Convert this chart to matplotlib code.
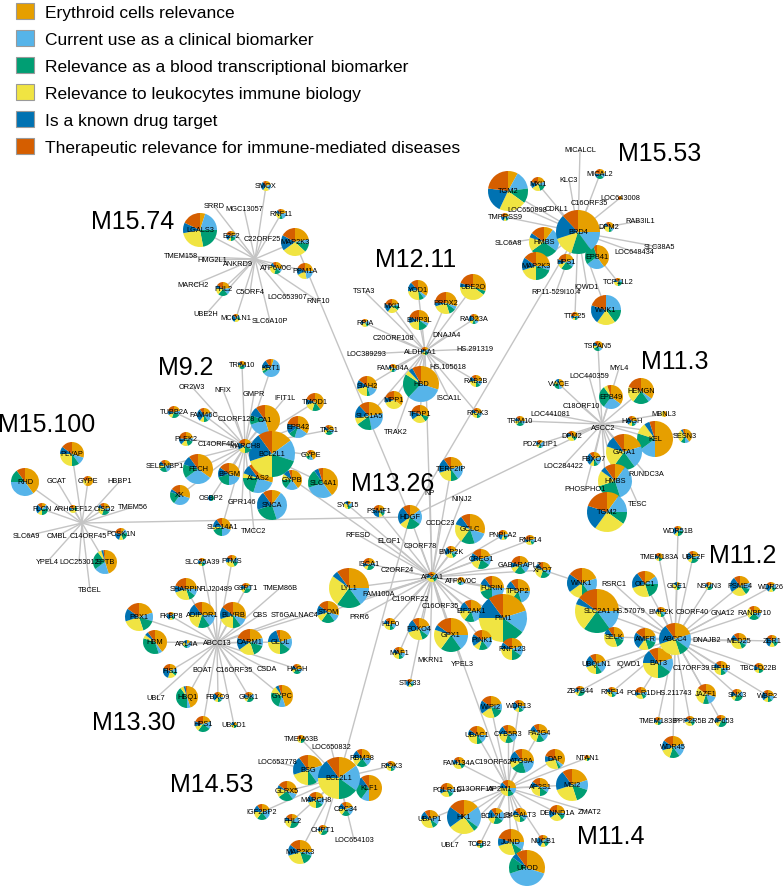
import matplotlib
matplotlib.use("Agg")
import matplotlib.pyplot as plt
from matplotlib.patches import Patch

plt.rcParams['font.family'] = ['Liberation Sans', 'DejaVu Sans']

categories = ['Erythroid cells relevance',
              'Current use as a clinical biomarker',
              'Relevance as a blood transcriptional biomarker',
              'Relevance to leukocytes immune biology',
              'Is a known drug target',
              'Therapeutic relevance for immune-mediated diseases']
palette = ['#E69F00', '#56B4E9', '#009E73', '#F0E442', '#0072B2', '#D55E00']

# node = (gene, x, y, pie size, scores per category); layout in pixels of the original figure
m15_74_hub = ("ANKRD9", 255, 260, 0, None)
m15_74 = [
    ("SMOX", 266, 187, 5, [2, 2, 0, 2, 3, 1]),
    ("SRRD", 214, 207, 0, None),
    ("MGC13057", 244, 210, 0, None),
    ("RNF11", 281, 215, 5, [2, 2, 1, 2, 1, 1]),
    ("LGALS3", 200, 231, 17, [5, 20, 22, 25, 10, 18]),
    ("E2F2", 231, 237, 5, [2, 1, 2, 1, 2, 2]),
    ("C22ORF25", 262, 240, 0, None),
    ("MAP2K3", 295, 243, 14, [22, 5, 10, 28, 18, 17]),
    ("TMEM158", 181, 257, 0, None),
    ("HMG2L1", 212, 261, 0, None),
    ("ATP6V0C", 276, 269, 6, [3, 1, 2, 3, 1, 1]),
    ("PPM1A", 305, 272, 8, [25, 22, 0, 20, 15, 18]),
    ("MARCH2", 193, 286, 0, None),
    ("FHL2", 223, 290, 7, [3, 2, 3, 2, 1, 2]),
    ("C5ORF4", 250, 293, 0, None),
    ("LOC653907", 287, 298, 0, None),
    ("RNF10", 318, 302, 0, None),
    ("UBE2H", 206, 315, 0, None),
    ("MCOLN1", 236, 319, 4, [1, 1, 1, 2, 3, 1]),
    ("SLC6A10P", 270, 322, 0, None),
]

m15_53_hub = ("BRD4", 578, 233, 22, [25, 15, 15, 15, 18, 12])
m15_53 = [
    ("MICALCL", 580, 151, 0, None),
    ("KLC3", 569, 180, 0, None),
    ("MICAL2", 600, 175, 5, [3, 2, 3, 0, 2, 3]),
    ("LOC643008", 620, 199, 2, [1, 0, 0, 0, 0, 1]),
    ("C16ORF35", 589, 204, 0, None),
    ("CDKL1", 557, 210, 0, None),
    ("MXI1", 538, 185, 7, [20, 10, 15, 20, 15, 20]),
    ("TGM2", 508, 192, 20, [8, 15, 12, 22, 20, 23]),
    ("LOC650898", 527, 211, 0, None),
    ("TMPRSS9", 505, 218, 4, [2, 1, 1, 1, 2, 2]),
    ("SLC6A8", 508, 244, 0, None),
    ("HMBS", 544, 243, 15, [10, 25, 30, 15, 5, 15]),
    ("DPM2", 609, 228, 5, [3, 1, 1, 3, 1, 1]),
    ("RAB3IL1", 640, 222, 0, None),
    ("SLC38A5", 659, 248, 0, None),
    ("LOC648434", 634, 253, 0, None),
    ("EPB41", 597, 258, 12, [40, 25, 30, 0, 0, 5]),
    ("MAP2K3", 536, 267, 14, [25, 5, 20, 20, 15, 15]),
    ("HPS1", 566, 263, 8, [20, 15, 25, 10, 10, 20]),
    ("TCP11L2", 618, 283, 4, [1, 1, 2, 2, 1, 1]),
    ("IQWD1", 587, 288, 0, None),
    ("RP11-529I10.4", 556, 293, 0, None),
    ("TTC25", 575, 317, 4, [2, 1, 1, 1, 1, 2]),
    ("WNK1", 606, 311, 15, [0, 25, 15, 20, 20, 20]),
]

m12_11_hub = ("ALDH5A1", 425, 352, 4, [1, 1, 1, 1, 1, 1])
m12_11 = [
    ("TSTA3", 364, 292, 0, None),
    ("YOD1", 418, 291, 10, [35, 5, 8, 25, 15, 12]),
    ("UBE2O", 473, 288, 13, [30, 0, 5, 40, 5, 20]),
    ("MXI1", 392, 307, 7, [20, 5, 10, 25, 20, 20]),
    ("PRDX2", 446, 304, 11, [30, 5, 10, 25, 5, 25]),
    ("BNIP3L", 419, 321, 10, [30, 5, 15, 20, 10, 20]),
    ("RAD23A", 474, 320, 5, [3, 1, 1, 1, 2, 1]),
    ("RPIA", 365, 324, 4, [1, 1, 1, 2, 1, 1]),
    ("C20ORF108", 393, 339, 0, None),
    ("DNAJA4", 447, 336, 0, None),
    ("LOC389293", 366, 355, 0, None),
    ("HS.291319", 475, 350, 0, None),
    ("FAM104A", 393, 369, 4, [2, 1, 1, 1, 1, 1]),
    ("HS.105618", 448, 368, 0, None),
    ("HBD", 421, 385, 18, [30, 32, 22, 4, 4, 8]),
    ("SIAH2", 367, 387, 10, [30, 15, 5, 20, 15, 15]),
    ("RAB2B", 476, 382, 6, [2, 1, 1, 2, 1, 1]),
    ("MPP1", 394, 401, 9, [35, 0, 0, 35, 10, 20]),
    ("ISCA1L", 449, 399, 0, None),
    ("SLC1A5", 369, 417, 14, [22, 25, 18, 8, 15, 12]),
    ("TFDP1", 420, 415, 9, [30, 0, 10, 25, 15, 20]),
    ("RIOK3", 477, 414, 5, [2, 1, 1, 2, 1, 1]),
    ("TRAK2", 396, 433, 0, None),
]

m9_2_hub = ("MARCH8", 245, 447, 7, [2, 2, 2, 2, 2, 2])
m9_2 = [
    ("TRIM10", 242, 366, 4, [2, 1, 2, 1, 1, 1]),
    ("OR2W3", 192, 388, 0, None),
    ("NFIX", 223, 391, 0, None),
    ("GMPR", 254, 395, 0, None),
    ("TUBB2A", 174, 413, 6, [2, 1, 2, 1, 1, 2]),
    ("FAM46C", 204, 416, 7, [2, 2, 1, 1, 3, 1]),
    ("C1ORF128", 236, 420, 0, None),
    ("KRT1", 271, 369, 9, [5, 60, 5, 5, 15, 10]),
    ("IFIT1L", 285, 399, 0, None),
    ("TMOD1", 315, 403, 9, [40, 0, 15, 15, 10, 20]),
    ("CA1", 265, 421, 15, [45, 25, 10, 0, 10, 10]),
    ("EPB42", 298, 428, 11, [35, 20, 10, 0, 15, 20]),
    ("TNS1", 329, 431, 5, [2, 1, 2, 1, 1, 1]),
    ("PLEK2", 186, 440, 7, [3, 1, 2, 2, 2, 3]),
    ("C14ORF45", 216, 445, 0, None),
    ("ALAS2", 258, 479, 15, [30, 25, 20, 5, 10, 10]),
    ("BCL2L1", 272, 455, 23, [15, 15, 20, 20, 20, 10]),
    ("GYPE", 311, 456, 5, [3, 1, 1, 1, 0, 1]),
    ("SELENBP1", 165, 467, 6, [2, 2, 2, 1, 1, 1]),
    ("FECH", 198, 470, 15, [35, 30, 15, 0, 10, 10]),
    ("BPGM", 229, 475, 11, [30, 20, 20, 0, 15, 15]),
    ("GYPB", 292, 481, 10, [40, 20, 15, 10, 10, 5]),
    ("SLC4A1", 323, 484, 15, [40, 30, 20, 0, 5, 5]),
    ("XK", 180, 496, 10, [30, 30, 20, 0, 5, 15]),
    ("OSBP2", 211, 499, 3, [0, 0, 1, 0, 1, 0]),
    ("GPR146", 242, 503, 0, None),
    ("SNCA", 272, 506, 15, [10, 35, 25, 0, 20, 10]),
    ("SLC14A1", 222, 528, 9, [30, 20, 20, 5, 15, 10]),
    ("TMCC2", 254, 532, 0, None),
]

m15_100_hub = ("C14ORF45", 82, 524, 0, None)
m15_100 = [
    ("PLVAP", 72, 455, 12, [30, 10, 10, 25, 10, 15]),
    ("RHD", 25, 483, 14, [40, 35, 15, 0, 0, 10]),
    ("GCAT", 57, 482, 0, None),
    ("GYPE", 88, 482, 5, [3, 0, 0, 1, 0, 1]),
    ("HBBP1", 120, 482, 0, None),
    ("FLCN", 42, 510, 6, [1, 1, 2, 1, 2, 1]),
    ("ARHGEF12", 73, 510, 4, [1, 0, 1, 2, 1, 1]),
    ("CISD2", 104, 510, 6, [2, 1, 2, 2, 1, 1]),
    ("TMEM56", 133, 508, 0, None),
    ("SLC6A9", 26, 537, 0, None),
    ("CMBL", 57, 537, 0, None),
    ("PCSK1N", 121, 535, 6, [1, 1, 2, 1, 2, 2]),
    ("YPEL4", 47, 563, 0, None),
    ("LOC253012", 79, 563, 0, None),
    ("SPTB", 105, 563, 12, [45, 20, 25, 5, 3, 2]),
    ("TBCEL", 90, 591, 0, None),
]

m11_3_hub = ("ASCC2", 602, 425, 0, None)
m11_3 = [
    ("TSPAN5", 598, 347, 5, [3, 1, 2, 1, 1, 1]),
    ("MYL4", 619, 369, 0, None),
    ("LOC440359", 589, 377, 0, None),
    ("VWCE", 559, 385, 5, [3, 1, 2, 1, 1, 0]),
    ("EPB49", 611, 398, 12, [35, 25, 30, 5, 0, 5]),
    ("HEMGN", 641, 392, 13, [35, 5, 20, 20, 0, 20]),
    ("C18ORF10", 581, 407, 0, None),
    ("LOC441081", 550, 415, 0, None),
    ("MBNL3", 664, 415, 3, [1, 0, 0, 1, 0, 0]),
    ("HAGH", 632, 422, 5, [2, 1, 1, 1, 2, 1]),
    ("TRIM10", 520, 422, 5, [2, 1, 2, 1, 1, 1]),
    ("DPM2", 572, 437, 5, [2, 0, 1, 2, 1, 1]),
    ("SESN3", 685, 437, 7, [40, 10, 10, 30, 5, 5]),
    ("KEL", 655, 440, 18, [50, 15, 15, 10, 5, 5]),
    ("PDZK1IP1", 540, 445, 4, [1, 2, 1, 1, 1, 1]),
    ("GATA1", 624, 453, 18, [20, 20, 20, 20, 10, 10]),
    ("FBXO7", 594, 460, 7, [20, 20, 10, 10, 30, 10]),
    ("LOC284422", 563, 467, 0, None),
    ("RUNDC3A", 646, 475, 0, None),
    ("HMBS", 615, 482, 17, [10, 35, 25, 15, 5, 10]),
    ("PHOSPHO1", 585, 490, 0, None),
    ("TESC", 638, 505, 0, None),
    ("TGM2", 607, 513, 20, [10, 15, 10, 25, 20, 20]),
]

m13_26_hub = ("AP2A1", 432, 578, 5, [1, 1, 1, 2, 1, 1])
m13_26 = [
    ("TERF2IP", 451, 470, 12, [20, 20, 10, 20, 20, 10]),
    ("NP", 430, 494, 0, None),
    ("NINJ2", 462, 500, 0, None),
    ("SYT15", 348, 506, 4, [1, 1, 1, 2, 1, 0]),
    ("PSMF1", 379, 512, 6, [2, 1, 1, 1, 3, 2]),
    ("HDGF", 410, 518, 12, [15, 20, 20, 10, 25, 10]),
    ("CCDC23", 440, 524, 0, None),
    ("GCLC", 470, 530, 15, [30, 15, 15, 20, 10, 10]),
    ("PNPLA2", 503, 536, 5, [2, 1, 1, 1, 2, 2]),
    ("RFESD", 358, 536, 0, None),
    ("ELOF1", 389, 542, 0, None),
    ("C9ORF78", 420, 547, 0, None),
    ("BMP2K", 451, 553, 6, [2, 1, 1, 2, 2, 1]),
    ("CREG1", 481, 560, 10, [20, 15, 20, 15, 15, 15]),
    ("RNF14", 530, 541, 5, [2, 1, 1, 2, 1, 2]),
    ("ISCA1", 369, 565, 6, [2, 1, 2, 1, 1, 2]),
    ("GABARAPL2", 520, 566, 9, [20, 20, 20, 10, 10, 20]),
    ("C2ORF24", 397, 571, 0, None),
    ("ATP6V0C", 461, 582, 4, [2, 1, 1, 1, 0, 1]),
    ("LYL1", 349, 589, 20, [25, 15, 20, 25, 5, 10]),
    ("FAM100A", 379, 595, 0, None),
    ("FURIN", 492, 589, 12, [25, 25, 20, 10, 10, 10]),
    ("TFDP2", 518, 592, 12, [25, 20, 15, 20, 10, 10]),
    ("XPO7", 543, 571, 8, [25, 10, 20, 25, 10, 10]),
    ("C19ORF22", 410, 600, 0, None),
    ("C16ORF35", 440, 607, 0, None),
    ("EIF2AK1", 471, 612, 11, [25, 20, 15, 15, 15, 10]),
    ("PIM1", 503, 619, 24, [20, 15, 15, 25, 15, 10]),
    ("STOM", 328, 613, 11, [30, 10, 20, 10, 15, 15]),
    ("PRR6", 359, 618, 0, None),
    ("H1F0", 390, 625, 6, [2, 1, 1, 2, 1, 1]),
    ("FOXO4", 419, 630, 11, [20, 15, 10, 25, 20, 10]),
    ("GPX1", 451, 636, 17, [25, 15, 20, 20, 5, 15]),
    ("PINK1", 482, 641, 10, [20, 20, 15, 10, 20, 15]),
    ("RNF123", 512, 650, 11, [20, 15, 15, 25, 10, 15]),
    ("MAF1", 399, 654, 6, [2, 1, 1, 2, 1, 1]),
    ("MKRN1", 430, 661, 0, None),
    ("YPEL3", 462, 665, 0, None),
    ("STK33", 410, 684, 4, [1, 1, 1, 1, 2, 1]),
]

m13_30_hub = ("ABCC13", 217, 644, 0, None)
m13_30 = [
    ("SLC25A39", 202, 563, 4, [1, 1, 1, 1, 1, 1]),
    ("PTMS", 232, 562, 6, [1, 1, 1, 2, 1, 1]),
    ("SHARPIN", 186, 590, 11, [25, 10, 10, 25, 10, 20]),
    ("FLJ20489", 216, 590, 0, None),
    ("GSPT1", 246, 589, 5, [1, 1, 2, 1, 1, 1]),
    ("TMEM86B", 280, 589, 0, None),
    ("PBX1", 139, 618, 14, [20, 10, 15, 25, 15, 15]),
    ("FKBP8", 171, 617, 4, [1, 1, 1, 1, 2, 1]),
    ("ADIPOR1", 202, 616, 13, [25, 15, 15, 20, 15, 10]),
    ("BLVRB", 233, 616, 13, [30, 10, 10, 20, 15, 15]),
    ("CBS", 260, 616, 0, None),
    ("ST6GALNAC4", 295, 616, 0, None),
    ("HBM", 155, 643, 12, [40, 5, 35, 5, 5, 10]),
    ("ARL4A", 187, 645, 4, [1, 2, 1, 1, 1, 0]),
    ("CARM1", 250, 643, 13, [20, 10, 15, 20, 15, 20]),
    ("GLUL", 280, 643, 12, [20, 15, 15, 25, 20, 5]),
    ("FIS1", 170, 672, 7, [2, 1, 1, 2, 3, 2]),
    ("BOAT", 202, 671, 0, None),
    ("C16ORF35", 234, 671, 0, None),
    ("CSDA", 267, 670, 0, None),
    ("HAGH", 297, 670, 5, [2, 1, 2, 1, 1, 1]),
    ("UBL7", 156, 699, 0, None),
    ("HBQ1", 187, 698, 11, [45, 5, 40, 5, 3, 2]),
    ("FBXO9", 218, 698, 5, [2, 1, 1, 1, 2, 1]),
    ("GUK1", 249, 698, 5, [1, 1, 2, 1, 1, 1]),
    ("GYPC", 282, 697, 11, [45, 10, 25, 10, 5, 5]),
    ("HPS1", 203, 725, 8, [20, 15, 25, 10, 10, 20]),
    ("UBXD1", 234, 726, 3, [1, 0, 1, 1, 1, 0]),
]

m11_2_hub = ("ABCC4", 675, 640, 16, [20, 15, 10, 25, 20, 10])
m11_2 = [
    ("WDR51B", 678, 532, 5, [1, 1, 2, 1, 2, 1]),
    ("TMEM183A", 659, 558, 4, [2, 0, 1, 1, 1, 1]),
    ("UBE2F", 693, 558, 6, [2, 1, 2, 1, 2, 1]),
    ("WNK1", 582, 584, 15, [20, 20, 10, 15, 20, 15]),
    ("RSRC1", 614, 585, 0, None),
    ("ODC1", 645, 585, 13, [15, 10, 20, 25, 20, 10]),
    ("GDE1", 677, 587, 4, [1, 1, 1, 2, 1, 0]),
    ("NSUN3", 709, 587, 4, [1, 1, 2, 1, 1, 1]),
    ("PSME4", 740, 587, 10, [20, 10, 10, 25, 25, 10]),
    ("WDR26", 771, 588, 5, [1, 1, 1, 1, 2, 1]),
    ("SLC2A1", 597, 612, 22, [25, 15, 20, 20, 5, 15]),
    ("HS.57079", 629, 612, 0, None),
    ("BMP2K", 661, 613, 5, [2, 1, 1, 2, 1, 1]),
    ("C9ORF40", 692, 613, 0, None),
    ("GNA12", 723, 614, 0, None),
    ("RANBP10", 754, 614, 7, [2, 1, 2, 2, 0, 1]),
    ("SELK", 614, 638, 10, [25, 5, 15, 35, 10, 10]),
    ("AMFR", 645, 640, 11, [20, 10, 15, 15, 25, 15]),
    ("DNAJB2", 707, 641, 0, None),
    ("MED25", 739, 642, 8, [2, 1, 1, 3, 1, 1]),
    ("ZER1", 772, 642, 6, [1, 1, 1, 1, 2, 1]),
    ("UBQLN1", 596, 665, 10, [20, 20, 10, 20, 20, 10]),
    ("IQWD1", 629, 665, 0, None),
    ("BAT3", 658, 664, 15, [20, 15, 15, 25, 15, 10]),
    ("C17ORF39", 691, 669, 0, None),
    ("EIF1B", 721, 669, 7, [2, 1, 1, 2, 1, 1]),
    ("TBC1D22B", 759, 669, 5, [2, 0, 1, 1, 1, 1]),
    ("ZBTB44", 580, 692, 5, [1, 1, 2, 1, 1, 1]),
    ("RNF14", 612, 693, 5, [2, 1, 1, 2, 1, 1]),
    ("POLR1D", 641, 694, 6, [2, 1, 1, 2, 1, 2]),
    ("HS.211743", 674, 694, 0, None),
    ("JAZF1", 706, 695, 10, [30, 15, 10, 30, 0, 15]),
    ("SNX3", 737, 696, 6, [1, 1, 2, 1, 1, 1]),
    ("WBP2", 768, 697, 6, [2, 1, 1, 1, 2, 1]),
    ("TMEM183B", 658, 722, 4, [1, 1, 1, 1, 1, 1]),
    ("PPP2R5B", 690, 722, 5, [1, 1, 1, 2, 1, 1]),
    ("ZNF653", 721, 722, 6, [1, 1, 2, 1, 1, 1]),
    ("WDR45", 673, 748, 11, [20, 20, 15, 15, 15, 15]),
]

m11_4_hub = ("AP2M1", 508, 789, 8, [2, 1, 1, 2, 1, 1])
m11_4 = [
    ("WIPI2", 491, 708, 11, [20, 10, 15, 20, 20, 15]),
    ("WDR13", 519, 707, 6, [2, 1, 1, 1, 2, 1]),
    ("UBAC1", 477, 736, 9, [25, 15, 10, 25, 10, 15]),
    ("CYB5R3", 508, 735, 9, [25, 15, 15, 20, 15, 10]),
    ("PA2G4", 539, 734, 9, [25, 15, 15, 25, 10, 10]),
    ("FAM134A", 459, 764, 6, [2, 0, 1, 2, 1, 1]),
    ("C19ORF62", 493, 763, 0, None),
    ("ATG9A", 522, 762, 12, [25, 20, 20, 10, 15, 10]),
    ("DAP", 555, 760, 10, [35, 5, 5, 25, 10, 20]),
    ("NTAN1", 587, 759, 3, [1, 0, 1, 1, 0, 1]),
    ("POLR1D", 447, 791, 7, [2, 1, 1, 2, 1, 2]),
    ("C13ORF15", 475, 790, 0, None),
    ("AP2S1", 540, 788, 9, [25, 10, 15, 25, 10, 15]),
    ("MSI2", 572, 786, 16, [20, 10, 15, 25, 20, 10]),
    ("UBAP1", 430, 820, 9, [20, 15, 10, 30, 15, 10]),
    ("HK1", 464, 818, 17, [15, 20, 5, 25, 20, 15]),
    ("BCL2L13", 496, 817, 8, [15, 20, 20, 15, 20, 10]),
    ("B4GALT3", 520, 816, 7, [2, 1, 1, 2, 1, 1]),
    ("DENND1A", 557, 814, 8, [25, 5, 10, 25, 15, 20]),
    ("ZMAT2", 590, 813, 0, None),
    ("UBL7", 450, 846, 0, None),
    ("TCEB2", 480, 845, 4, [1, 1, 1, 1, 1, 1]),
    ("JUND", 511, 843, 13, [25, 10, 10, 25, 10, 20]),
    ("NUCB1", 543, 842, 6, [1, 1, 1, 1, 2, 1]),
    ("UROD", 527, 869, 18, [30, 40, 15, 0, 5, 10]),
]

m14_53_hub = ("BCL2L1", 339, 779, 21, [15, 20, 15, 25, 15, 10])
m14_53 = [
    ("TMEM63B", 301, 740, 4, [1, 0, 1, 1, 0, 1]),
    ("LOC650832", 331, 748, 0, None),
    ("RBM38", 362, 759, 9, [25, 15, 20, 15, 15, 10]),
    ("RIOK3", 391, 767, 5, [2, 1, 1, 2, 1, 1]),
    ("LOC653778", 277, 763, 0, None),
    ("BSG", 308, 771, 15, [20, 20, 10, 20, 20, 10]),
    ("KLF1", 369, 789, 13, [50, 10, 20, 0, 10, 10]),
    ("GLRX5", 287, 792, 10, [30, 10, 25, 15, 5, 15]),
    ("MARCH8", 316, 801, 8, [20, 15, 15, 20, 15, 15]),
    ("IGF2BP2", 262, 813, 8, [20, 20, 20, 15, 15, 10]),
    ("CDC34", 346, 810, 7, [20, 20, 20, 15, 15, 10]),
    ("FHL2", 292, 822, 7, [15, 15, 25, 20, 10, 15]),
    ("CHPT1", 323, 831, 5, [1, 1, 2, 1, 1, 1]),
    ("LOC654103", 354, 841, 0, None),
    ("MAP2K3", 300, 853, 12, [25, 5, 15, 25, 15, 15]),
]

modules = [
    ("M15.74", m15_74_hub, m15_74),
    ("M15.53", m15_53_hub, m15_53),
    ("M12.11", m12_11_hub, m12_11),
    ("M9.2", m9_2_hub, m9_2),
    ("M15.100", m15_100_hub, m15_100),
    ("M11.3", m11_3_hub, m11_3),
    ("M13.26", m13_26_hub, m13_26),
    ("M13.30", m13_30_hub, m13_30),
    ("M11.2", m11_2_hub, m11_2),
    ("M11.4", m11_4_hub, m11_4),
    ("M14.53", m14_53_hub, m14_53),
]
module_label_pos = {
    "M15.74": (133, 222), "M15.53": (660, 154), "M12.11": (416, 260),
    "M9.2": (186, 368), "M15.100": (47, 425), "M11.3": (675, 362),
    "M13.26": (393, 484), "M13.30": (134, 723), "M11.2": (743, 556),
    "M11.4": (611, 837), "M14.53": (212, 785),
}

# links between modules
links = [
    (("M15.74", "MAP2K3"), ("M13.26", "HDGF")),
    (("M15.53", "BRD4"), ("M13.26", "HDGF")),
    (("M11.3", "ASCC2"), ("M13.26", "HDGF")),
    (("M15.100", "C14ORF45"), ("M13.26", "HDGF")),
    (("M14.53", "BCL2L1"), ("M13.26", "HDGF")),
    (("M9.2", "MARCH8"), ("M13.26", "AP2A1")),
    (("M12.11", "ALDH5A1"), ("M13.26", "AP2A1")),
    (("M13.30", "ABCC13"), ("M13.26", "AP2A1")),
    (("M11.4", "AP2M1"), ("M13.26", "AP2A1")),
    (("M13.26", "XPO7"), ("M11.2", "WNK1")),
]

# hub labels that sit a little off the point where the edges meet
label_shift = {
    ("M15.74", "ANKRD9"): (-17, 5),
    ("M15.100", "C14ORF45"): (6, 13),
    ("M12.11", "ALDH5A1"): (-5, 1),
    ("M11.3", "ASCC2"): (1, 4),
    ("M11.4", "AP2M1"): (-8, 1),
}

fig = plt.figure(figsize=(7.84, 8.87), dpi=100)
ax = fig.add_axes([0, 0, 1, 1])

pos = {}
for mod, hub, nodes in modules:
    for n in [hub] + nodes:
        pos[(mod, n[0])] = (n[1], n[2])

edge_kw = dict(color='#c4c4c4', lw=1.0, zorder=1, solid_capstyle='round')
for mod, hub, nodes in modules:
    for n in nodes:
        ax.plot([hub[1], n[1]], [hub[2], n[2]], **edge_kw)
for a, b in links:
    (x1, y1), (x2, y2) = pos[a], pos[b]
    ax.plot([x1, x2], [y1, y2], **edge_kw)

for mod, hub, nodes in modules:
    for name, x, y, size, shares in nodes + [hub]:
        if shares:
            # y axis is flipped, so start at -90 and go counterclockwise = clockwise from 12 o'clock
            ax.pie(shares, colors=palette, center=(x, y), radius=size,
                   startangle=-90, counterclock=True, frame=True,
                   wedgeprops=dict(linewidth=0, zorder=2))
        dx, dy = label_shift.get((mod, name), (0, 0))
        ax.text(x + dx, y + dy, name, ha='center', va='center',
                fontsize=5.3, zorder=3)
    lx, ly = module_label_pos[mod]
    ax.text(lx, ly, mod, ha='center', va='center', fontsize=18, zorder=4)

handles = [Patch(facecolor=c, edgecolor='#9a9a9a', linewidth=0.8, label=t)
           for c, t in zip(palette, categories)]
ax.legend(handles=handles, loc='upper left', bbox_to_anchor=(16 / 784, 1 - 4 / 887),
          frameon=False, fontsize=12.5, handlelength=1.05, handleheight=1.05,
          handletextpad=0.6, labelspacing=0.58, borderpad=0, borderaxespad=0)

ax.set_xlim(0, 784)
ax.set_ylim(887, 0)
ax.set_aspect('equal')
ax.axis('off')
fig.savefig('out.png', dpi=100, facecolor='white')
